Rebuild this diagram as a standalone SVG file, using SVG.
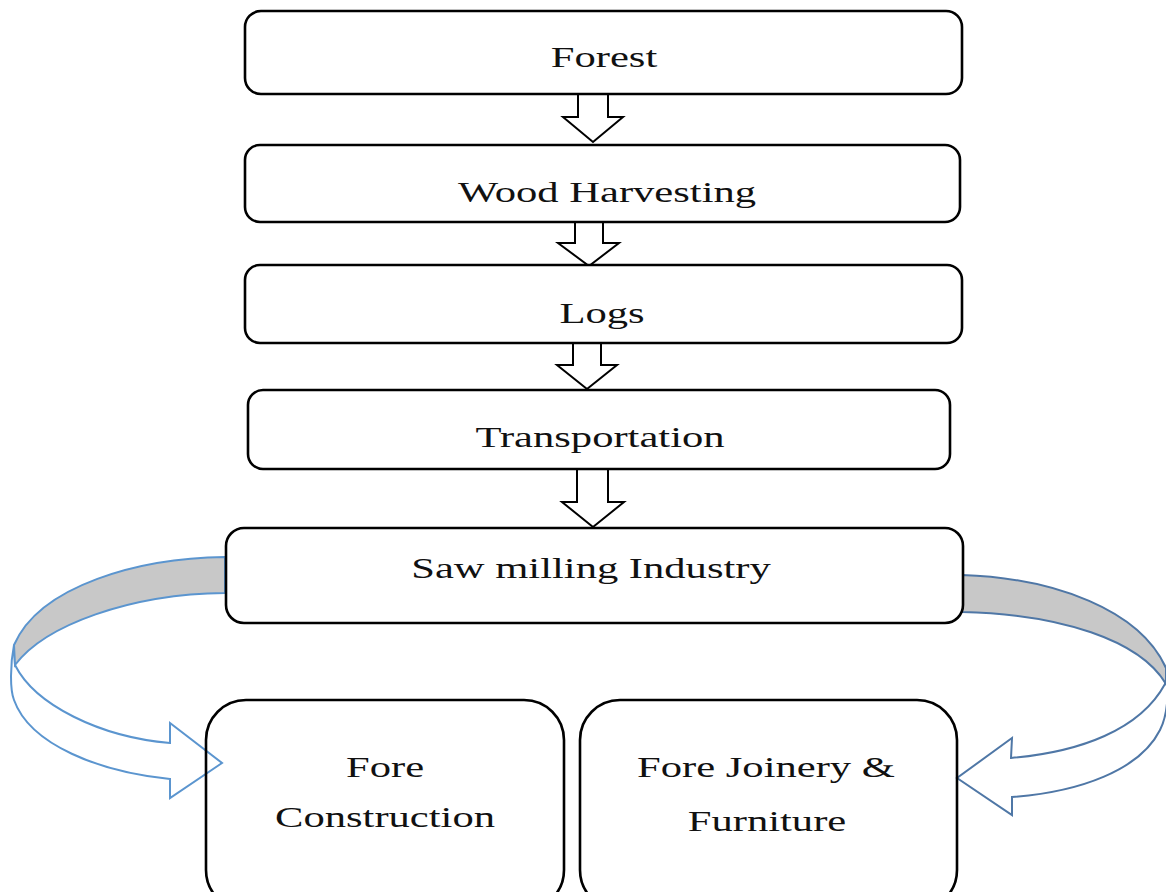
<svg xmlns="http://www.w3.org/2000/svg" width="1166" height="892" viewBox="0 0 1166 892">
<style>
.box{fill:#fff;stroke:#000;stroke-width:2.6}
.open{fill:none}
.lbl{font-family:"Liberation Serif","Times New Roman",serif;font-size:30px;fill:#111;text-anchor:middle}
.down{fill:#fff;stroke:#000;stroke-width:2}
.band{fill:#c8c8c8;stroke-width:2}
.wband{fill:#fff;stroke-width:2}
</style>
<rect width="1166" height="892" fill="#fff"/>
<g id="connectors">
  <polygon class="down" points="578,94 608,94 608,117 623,117 593,142 563,117 578,117"/>
  <polygon class="down" points="575,222 603,222 603,243 619,243 589,266 558,243 575,243"/>
  <polygon class="down" points="573,343 601,343 601,365 617,365 587,389 557,365 573,365"/>
  <polygon class="down" points="577,469 608,469 608,502 624,502 593,527 562,502 577,502"/>
  <g id="curve-left" stroke="#5b95cf">
    <path class="wband" d="M 14,645 C 10,665 10,690 14,700 C 30,745 100,772 170,779 L 170,798 L 222,763 L 170,723 L 170,743 C 100,737 35,705 15,665 Z"/>
    <path class="band" d="M 225,557 C 140,558 40,585 14,645 L 15,665 C 45,625 130,594 225,593 Z"/>
  </g>
  <g id="curve-right" stroke="#4f77a6">
    <path class="wband" d="M 1166,668 C 1170,700 1165,720 1160,730 C 1140,770 1080,792 1012,797 L 1012,815 L 957,778 L 1012,738 L 1011,758 C 1080,752 1140,730 1165,684 Z"/>
    <path class="band" d="M 962,575 C 1055,578 1140,610 1166,668 L 1166,684 C 1140,640 1060,614 962,612 Z"/>
  </g>
</g>
<g id="forest">
  <rect class="box" x="245" y="11" width="717" height="83" rx="16"/>
  <text class="lbl" transform="translate(604,67) scale(1.42,1)">Forest</text>
</g>
<g id="harvesting">
  <rect class="box" x="245" y="145" width="715" height="77" rx="15"/>
  <text class="lbl" transform="translate(607,202) scale(1.42,1)">Wood Harvesting</text>
</g>
<g id="logs">
  <rect class="box" x="245" y="265" width="717" height="78" rx="15"/>
  <text class="lbl" transform="translate(602,323) scale(1.42,1)">Logs</text>
</g>
<g id="transportation">
  <rect class="box" x="248" y="390" width="702" height="79" rx="15"/>
  <text class="lbl" transform="translate(600,447) scale(1.42,1)">Transportation</text>
</g>
<g id="sawmill">
  <rect class="box" x="226" y="528" width="737" height="95" rx="18"/>
  <text class="lbl" transform="translate(591,578) scale(1.42,1)">Saw milling Industry</text>
</g>
<g id="construction">
  <rect class="box open" x="206" y="700" width="358" height="210" rx="40"/>
  <text class="lbl" transform="translate(385,777) scale(1.42,1)">Fore</text>
  <text class="lbl" transform="translate(385,827) scale(1.42,1)">Construction</text>
</g>
<g id="joinery">
  <rect class="box open" x="580" y="700" width="377" height="210" rx="40"/>
  <text class="lbl" transform="translate(766,777) scale(1.42,1)">Fore Joinery &amp;</text>
  <text class="lbl" transform="translate(767,831) scale(1.42,1)">Furniture</text>
</g>
</svg>
